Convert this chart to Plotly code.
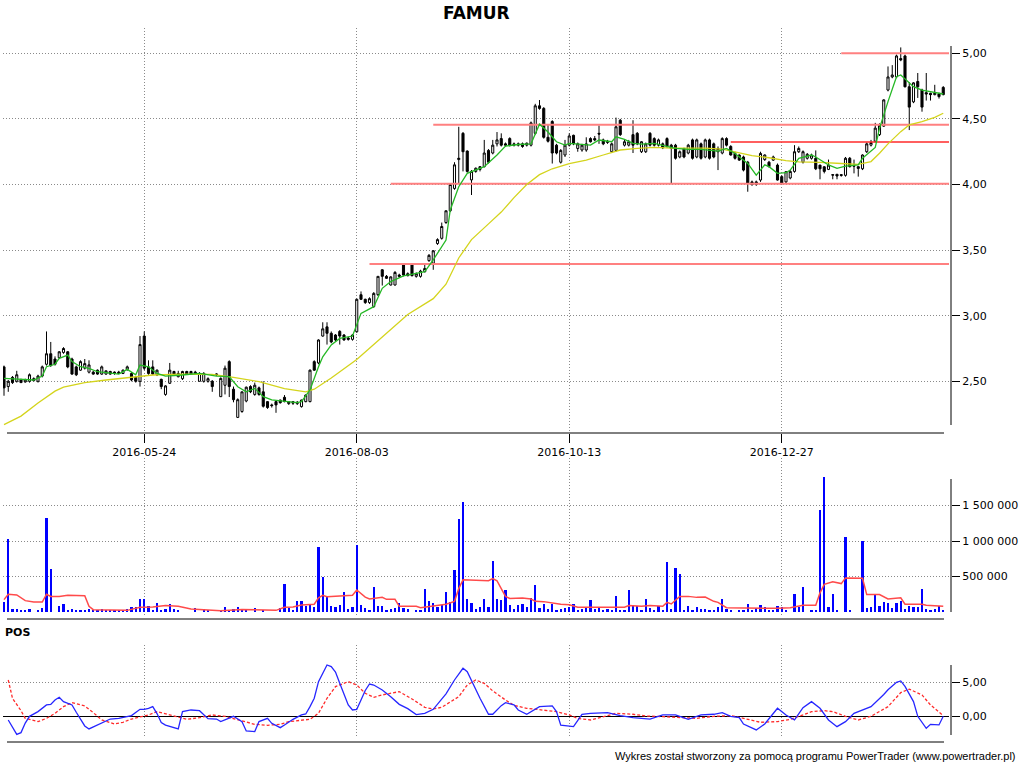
import plotly.graph_objects as go

W, H = 1024, 768

# ---------------- data ----------------
date_tick_idx = [33, 83, 133, 183]
date_tick_txt = ["2016-05-24", "2016-08-03", "2016-10-13", "2016-12-27"]

price_ticks = [2.5, 3.0, 3.5, 4.0, 4.5, 5.0]
price_tick_txt = ["2,50", "3,00", "3,50", "4,00", "4,50", "5,00"]
vol_ticks = [500000, 1000000, 1500000]
vol_tick_txt = ["500 000", "1 000 000", "1 500 000"]
pos_ticks = [0, 5]
pos_tick_txt = ["0,00", "5,00"]

open_ = [
 2.61, 2.46, 2.53, 2.50, 2.51, 2.495, 2.50, 2.52, 2.50, 2.54,
 2.63, 2.71, 2.67, 2.68, 2.72, 2.725, 2.67, 2.61, 2.585, 2.60,
 2.57, 2.57, 2.585, 2.555, 2.555, 2.575, 2.56, 2.57, 2.56, 2.59,
 2.56, 2.53, 2.50, 2.845, 2.61, 2.61, 2.55, 2.515, 2.40, 2.485,
 2.575, 2.535, 2.52, 2.575, 2.575, 2.56, 2.50, 2.50, 2.50, 2.50,
 2.55, 2.383, 2.47, 2.65, 2.44, 2.225, 2.27, 2.35, 2.46, 2.40,
 2.45, 2.42, 2.345, 2.32, 2.345, 2.357, 2.378, 2.33, 2.345, 2.33,
 2.307, 2.345, 2.345, 2.65, 2.64, 2.845, 2.915, 2.866, 2.853, 2.88,
 2.853, 2.83, 2.82, 2.878, 3.16, 3.125, 3.10, 3.07, 3.16, 3.35,
 3.30, 3.234, 3.234, 3.31, 3.39, 3.32, 3.39, 3.30, 3.30, 3.335,
 3.42, 3.40, 3.55, 3.59, 3.71, 3.80, 3.97, 4.19, 4.39, 4.255,
 4.035, 4.10, 4.115, 4.136, 4.26, 4.24, 4.31, 4.35, 4.31, 4.35,
 4.31, 4.30, 4.31, 4.30, 4.30, 4.39, 4.60, 4.58, 4.36, 4.48,
 4.30, 4.17, 4.225, 4.30, 4.375, 4.275, 4.263, 4.263, 4.35, 4.35,
 4.39, 4.34, 4.32, 4.25, 4.26, 4.49, 4.30, 4.30, 4.38, 4.39,
 4.25, 4.25, 4.39, 4.35, 4.30, 4.31, 4.35, 4.30, 4.30, 4.21,
 4.275, 4.24, 4.34, 4.21, 4.31, 4.21, 4.34, 4.31, 4.25, 4.24,
 4.35, 4.29, 4.237, 4.225, 4.21, 4.17, 4.02, 4.02, 4.034, 4.19,
 4.17, 4.186, 4.148, 4.06, 4.02, 4.05, 4.10, 4.25, 4.17, 4.20,
 4.20, 4.20, 4.148, 4.135, 4.115, 4.075, 4.078, 4.075, 4.07, 4.20,
 4.14, 4.136, 4.12, 4.25, 4.30, 4.33, 4.38, 4.445, 4.72, 4.82,
 4.82, 4.96, 4.98, 4.745, 4.63, 4.785, 4.72, 4.70, 4.695, 4.685,
 4.69, 4.74]

high = [
 2.62, 2.51, 2.54, 2.58, 2.52, 2.52, 2.56, 2.53, 2.55, 2.62,
 2.88, 2.80, 2.69, 2.73, 2.76, 2.73, 2.68, 2.62, 2.66, 2.67,
 2.66, 2.58, 2.59, 2.62, 2.58, 2.58, 2.575, 2.58, 2.59, 2.62,
 2.57, 2.54, 2.845, 2.88, 2.66, 2.66, 2.59, 2.52, 2.47, 2.64,
 2.58, 2.58, 2.58, 2.58, 2.58, 2.58, 2.57, 2.57, 2.53, 2.51,
 2.56, 2.53, 2.62, 2.66, 2.46, 2.37, 2.42, 2.46, 2.47, 2.49,
 2.46, 2.50, 2.35, 2.33, 2.35, 2.36, 2.395, 2.35, 2.35, 2.35,
 2.36, 2.40, 2.59, 2.66, 2.82, 2.95, 2.95, 2.88, 2.86, 2.89,
 2.86, 2.84, 2.86, 3.13, 3.185, 3.13, 3.14, 3.18, 3.30, 3.355,
 3.31, 3.30, 3.34, 3.32, 3.39, 3.33, 3.39, 3.33, 3.35, 3.39,
 3.47, 3.50, 3.59, 3.71, 3.80, 4.00, 4.17, 4.44, 4.40, 4.26,
 4.11, 4.13, 4.14, 4.34, 4.27, 4.34, 4.40, 4.39, 4.32, 4.36,
 4.32, 4.32, 4.32, 4.32, 4.48, 4.615, 4.644, 4.59, 4.46, 4.49,
 4.31, 4.27, 4.34, 4.39, 4.38, 4.32, 4.31, 4.36, 4.36, 4.37,
 4.45, 4.35, 4.34, 4.32, 4.51, 4.50, 4.34, 4.34, 4.49, 4.40,
 4.33, 4.32, 4.40, 4.36, 4.35, 4.32, 4.36, 4.31, 4.31, 4.26,
 4.28, 4.31, 4.35, 4.35, 4.32, 4.35, 4.35, 4.32, 4.29, 4.36,
 4.36, 4.30, 4.25, 4.23, 4.22, 4.18, 4.03, 4.03, 4.25, 4.23,
 4.18, 4.22, 4.16, 4.07, 4.10, 4.11, 4.30, 4.29, 4.26, 4.24,
 4.235, 4.26, 4.15, 4.14, 4.19, 4.08, 4.08, 4.08, 4.21, 4.21,
 4.19, 4.14, 4.23, 4.32, 4.34, 4.47, 4.466, 4.65, 4.90, 4.91,
 4.99, 5.045, 4.99, 4.78, 4.78, 4.85, 4.73, 4.85, 4.70, 4.76,
 4.70, 4.75]

low = [
 2.39, 2.42, 2.48, 2.49, 2.49, 2.49, 2.49, 2.50, 2.49, 2.53,
 2.62, 2.61, 2.62, 2.67, 2.71, 2.60, 2.55, 2.54, 2.58, 2.59,
 2.56, 2.55, 2.55, 2.55, 2.55, 2.55, 2.55, 2.555, 2.555, 2.58,
 2.50, 2.49, 2.46, 2.585, 2.55, 2.55, 2.54, 2.44, 2.39, 2.48,
 2.54, 2.53, 2.51, 2.55, 2.55, 2.55, 2.50, 2.49, 2.49, 2.42,
 2.54, 2.38, 2.40, 2.38, 2.34, 2.22, 2.26, 2.34, 2.41, 2.39,
 2.39, 2.30, 2.29, 2.30, 2.26, 2.33, 2.34, 2.32, 2.32, 2.32,
 2.30, 2.34, 2.34, 2.58, 2.63, 2.84, 2.78, 2.79, 2.80, 2.78,
 2.81, 2.81, 2.81, 2.87, 3.12, 3.09, 3.09, 3.06, 3.15, 3.23,
 3.28, 3.23, 3.23, 3.29, 3.30, 3.30, 3.30, 3.29, 3.29, 3.33,
 3.41, 3.35, 3.54, 3.58, 3.70, 3.79, 3.96, 4.01, 4.10, 4.09,
 3.92, 4.09, 4.10, 4.13, 4.16, 4.23, 4.29, 4.29, 4.29, 4.29,
 4.29, 4.29, 4.28, 4.29, 4.29, 4.38, 4.57, 4.35, 4.32, 4.16,
 4.23, 4.16, 4.21, 4.29, 4.30, 4.25, 4.25, 4.25, 4.32, 4.33,
 4.31, 4.30, 4.31, 4.24, 4.25, 4.37, 4.29, 4.29, 4.24, 4.30,
 4.24, 4.24, 4.29, 4.29, 4.29, 4.27, 4.28, 4.01, 4.19, 4.20,
 4.20, 4.23, 4.19, 4.20, 4.19, 4.20, 4.19, 4.20, 4.11, 4.23,
 4.29, 4.22, 4.19, 4.18, 4.10, 3.945, 3.99, 3.99, 4.02, 4.18,
 4.13, 4.18, 4.03, 4.00, 4.01, 4.04, 4.09, 4.24, 4.16, 4.19,
 4.19, 4.11, 4.04, 4.085, 4.11, 4.04, 4.04, 4.06, 4.06, 4.13,
 4.085, 4.06, 4.11, 4.24, 4.29, 4.32, 4.37, 4.44, 4.71, 4.81,
 4.81, 4.94, 4.74, 4.415, 4.62, 4.66, 4.555, 4.64, 4.64, 4.68,
 4.655, 4.68]

close = [
 2.45, 2.50, 2.49, 2.55, 2.49, 2.51, 2.55, 2.505, 2.54, 2.61,
 2.71, 2.62, 2.63, 2.725, 2.75, 2.61, 2.555, 2.55, 2.65, 2.635,
 2.625, 2.555, 2.555, 2.61, 2.58, 2.555, 2.57, 2.56, 2.585, 2.61,
 2.51, 2.50, 2.78, 2.60, 2.56, 2.555, 2.585, 2.46, 2.465, 2.585,
 2.55, 2.56, 2.575, 2.555, 2.555, 2.57, 2.56, 2.56, 2.52, 2.46,
 2.555, 2.522, 2.60, 2.46, 2.36, 2.36, 2.42, 2.455, 2.42, 2.47,
 2.40, 2.31, 2.30, 2.315, 2.32, 2.337, 2.345, 2.345, 2.333, 2.34,
 2.357, 2.395, 2.585, 2.585, 2.815, 2.90, 2.866, 2.80, 2.815, 2.845,
 2.815, 2.82, 2.853, 3.125, 3.125, 3.10, 3.13, 3.17, 3.30, 3.30,
 3.285, 3.296, 3.33, 3.30, 3.31, 3.305, 3.305, 3.32, 3.34, 3.36,
 3.46, 3.495, 3.58, 3.68, 3.80, 4.00, 4.15, 4.20, 4.25, 4.10,
 4.10, 4.124, 4.136, 4.24, 4.17, 4.30, 4.34, 4.30, 4.30, 4.30,
 4.30, 4.31, 4.29, 4.315, 4.47, 4.60, 4.58, 4.36, 4.33, 4.24,
 4.24, 4.26, 4.30, 4.37, 4.31, 4.31, 4.30, 4.31, 4.326, 4.34,
 4.385, 4.31, 4.33, 4.31, 4.44, 4.38, 4.326, 4.326, 4.30, 4.31,
 4.326, 4.31, 4.30, 4.30, 4.34, 4.28, 4.29, 4.275, 4.20, 4.25,
 4.21, 4.30, 4.20, 4.34, 4.20, 4.34, 4.20, 4.21, 4.275, 4.35,
 4.30, 4.225, 4.20, 4.186, 4.11, 4.01, 4.00, 4.00, 4.237, 4.225,
 4.136, 4.21, 4.034, 4.01, 4.098, 4.10, 4.25, 4.275, 4.25, 4.23,
 4.225, 4.12, 4.12, 4.10, 4.148, 4.072, 4.065, 4.07, 4.20, 4.136,
 4.142, 4.123, 4.225, 4.31, 4.32, 4.43, 4.45, 4.645, 4.82, 4.835,
 4.98, 4.95, 4.745, 4.59, 4.775, 4.745, 4.59, 4.69, 4.685, 4.695,
 4.67, 4.685]

# volume in thousands of shares
volume_k = [
 146, 1033, 47, 47, 33, 33, 47, 5, 33, 61,
 1330, 610, 5, 89, 117, 33, 47, 33, 33, 33,
 47, 33, 33, 47, 33, 33, 33, 33, 33, 47,
 75, 75, 188, 188, 89, 33, 131, 33, 47, 117,
 47, 33, 5, 5, 5, 61, 5, 47, 33, 5,
 5, 33, 75, 33, 47, 75, 47, 47, 5, 61,
 5, 33, 5, 5, 5, 61, 400, 61, 33, 160,
 160, 89, 117, 75, 920, 500, 216, 89, 75, 103,
 286, 47, 75, 948, 103, 61, 33, 357, 89, 89,
 33, 47, 61, 131, 61, 47, 5, 33, 33, 329,
 160, 131, 75, 103, 286, 146, 596, 1310, 1550, 188,
 131, 47, 75, 188, 75, 723, 188, 174, 315, 103,
 47, 103, 117, 75, 200, 385, 61, 117, 47, 117,
 33, 47, 61, 75, 117, 33, 47, 75, 174, 47,
 61, 33, 47, 33, 230, 33, 33, 315, 103, 89,
 33, 188, 61, 33, 89, 33, 709, 47, 624, 540,
 33, 89, 33, 75, 47, 47, 33, 33, 75, 188,
 47, 33, 5, 33, 33, 117, 33, 61, 103, 75,
 33, 33, 89, 75, 33, 5, 258, 75, 357, 5,
 33, 33, 1430, 1900, 75, 258, 33, 5, 1061, 33,
 5, 5, 1005, 61, 75, 258, 89, 146, 131, 61,
 131, 160, 47, 89, 75, 75, 329, 47, 33, 47,
 89, 33]

# (bar index, value) pairs
ma_long = [(0,2.17),(4,2.235),(8,2.335),(12,2.425),(14,2.455),(19,2.49),(24,2.51),(30,2.53),
 (35,2.548),(42,2.555),(49,2.553),(54,2.53),(60,2.497),(66,2.445),(71,2.42),(73,2.44),(77,2.525),
 (83,2.667),(89,2.84),(95,3.01),(101,3.13),(104,3.24),(107,3.44),(110,3.58),(114,3.70),(117,3.79),
 (120,3.90),(123,4.00),(126,4.075),(129,4.12),(133,4.16),(137,4.186),(141,4.225),(145,4.263),
 (149,4.275),(153,4.283),(157,4.278),(161,4.278),(165,4.278),(169,4.27),(172,4.25),(176,4.22),
 (180,4.204),(184,4.182),(187,4.172),(192,4.169),(197,4.16),(201,4.154),(204,4.175),(206,4.238),
 (208,4.31),(211,4.403),(213,4.454),(216,4.48),(219,4.512),(221,4.543)]

ma_short = [(0,2.522),(3,2.515),(7,2.51),(9,2.54),(10,2.611),(12,2.63),(13,2.675),(15,2.70),(16,2.65),
 (18,2.611),(20,2.599),(22,2.573),(24,2.565),(27,2.555),(29,2.591),(31,2.55),(32,2.624),(34,2.611),
 (36,2.56),(38,2.54),(42,2.548),(46,2.561),(50,2.54),(53,2.535),(55,2.459),(57,2.42),(59,2.446),
 (61,2.383),(63,2.358),(66,2.345),(69,2.337),(70,2.345),(72,2.434),(74,2.611),(75,2.687),(77,2.777),
 (79,2.827),(82,2.845),(84,3.018),(87,3.069),(89,3.209),(91,3.26),(94,3.303),(97,3.323),(99,3.336),
 (101,3.425),(104,3.577),(105,3.806),(107,3.983),(109,4.085),(111,4.11),(113,4.136),(116,4.225),
 (118,4.293),(121,4.305),(124,4.31),(126,4.46),(128,4.40),(130,4.326),(132,4.30),(133,4.313),
 (136,4.308),(138,4.30),(140,4.339),(143,4.326),(144,4.364),(146,4.344),(148,4.313),(150,4.308),
 (153,4.313),(155,4.30),(158,4.275),(161,4.268),(164,4.268),(168,4.255),(170,4.275),(172,4.237),
 (175,4.161),(177,4.072),(179,4.15),(180,4.136),(182,4.085),(184,4.09),(185,4.11),(187,4.20),
 (190,4.225),(191,4.21),(194,4.149),(196,4.123),(198,4.14),(201,4.149),(202,4.2),(205,4.283),
 (206,4.428),(208,4.632),(210,4.822),(211,4.835),(213,4.771),(214,4.746),(216,4.72),(219,4.70),(221,4.69)]

# support / resistance levels and the bar where each begins
levels = [5.00, 4.455, 4.324, 4.005, 3.394]
level_start = [197, 101, 171, 91, 86]

vol_ma_k = [(0,174),(1,250),(3,240),(5,160),(7,140),(9,140),(10,250),(11,220),(13,220),(15,235),
 (19,230),(20,80),(21,33),(25,23),(29,23),(32,66),(35,70),(38,90),(41,80),(44,42),(48,33),(51,19),
 (56,35),(61,33),(64,23),(66,66),(68,70),(70,100),(73,110),(74,200),(75,235),(76,216),(80,230),
 (82,235),(83,310),(85,210),(86,183),(89,206),(90,178),(92,178),(93,80),(97,80),(98,60),(101,80),
 (104,110),(106,150),(107,330),(108,455),(111,446),(114,440),(115,470),(116,440),(117,330),(118,220),
 (119,190),(122,197),(124,183),(125,150),(127,146),(129,127),(131,108),(133,103),(135,66),(138,66),
 (143,66),(146,66),(147,90),(150,80),(152,90),(155,80),(156,136),(157,113),(159,220),(161,220),
 (163,206),(165,211),(167,150),(168,136),(170,60),(173,56),(178,56),(182,52),(185,61),(188,94),
 (191,94),(192,270),(193,390),(195,427),(197,400),(198,480),(202,475),(203,245),(206,245),(208,183),
 (211,200),(212,110),(216,108),(217,94),(221,80)]

pos_line = [(1,-0.54),(3,-2.65),(4,-2.4),(5,-1.0),(6,0.0),(8,0.69),(10,1.67),(11,1.76),(12,2.4),
 (13,2.8),(14,2.16),(16,1.67),(17,0.6),(18,-0.5),(19,-1.42),(20,-1.86),(23,-0.93),(25,-0.4),(27,-0.3),
 (29,0.0),(30,0.1),(32,1.03),(33,1.03),(34,1.18),(35,1.42),(36,0.4),(37,-0.9),(38,-1.3),(39,-1.52),
 (41,-1.86),(42,0.69),(44,0.93),(46,0.83),(47,0.2),(48,-0.34),(50,-0.4),(51,-0.78),(54,0.0),(56,-0.78),
 (57,-2.16),(59,-2.25),(60,-0.78),(62,-0.3),(63,-1.03),(65,-1.67),(66,-1.27),(68,-0.44),(70,0.2),
 (71,0.34),(72,1.42),(73,2.65),(74,5.1),(76,7.55),(77,7.3),(78,6.5),(79,4.85),(81,1.67),(82,0.93),
 (83,1.03),(84,2.4),(85,3.8),(86,4.75),(87,4.6),(89,3.87),(91,2.89),(93,1.76),(95,1.13),(97,0.25),
 (99,0.44),(101,1.03),(103,2.5),(104,3.3),(106,5.34),(108,7.06),(109,6.57),(110,5.2),(112,2.65),
 (114,0.3),(115,0.3),(117,1.57),(118,2.0),(120,1.67),(121,0.93),(123,0.3),(126,1.42),(129,1.52),
 (130,0.69),(131,-1.3),(134,-1.52),(136,0.3),(138,0.44),(142,0.54),(145,0.1),(148,-0.2),(152,-0.4),
 (155,0.2),(158,0.2),(161,-0.44),(164,0.2),(167,0.3),(169,0.54),(171,0.0),(173,-0.2),(174,-1.13),
 (177,-2.0),(179,-1.13),(182,1.18),(184,0.2),(186,-0.54),(188,1.27),(190,2.16),(192,1.18),(194,-0.54),
 (196,-1.52),(198,-0.78),(200,0.44),(202,0.93),(204,1.42),(207,3.2),(208,3.9),(210,5.0),(211,5.2),
 (212,4.4),(214,2.16),(215,0.0),(217,-1.76),(218,-1.18),(220,-1.27),(221,0.0)]

pos_signal = [(1,5.34),(2,2.65),(4,0.83),(5,-0.3),(8,-0.78),(10,-0.3),(12,0.44),(14,1.42),(16,2.0),
 (19,1.52),(21,0.54),(23,-0.54),(26,-1.13),(28,-0.88),(30,-0.4),(34,0.2),(36,0.69),(38,0.34),(41,-0.2),
 (43,-0.44),(46,-0.2),(49,0.2),(52,0.0),(56,-0.64),(59,-1.18),(62,-1.32),(65,-1.18),(67,-0.78),
 (70,-0.64),(72,-0.44),(74,0.44),(76,2.65),(78,4.36),(81,5.1),(83,4.6),(85,3.38),(87,2.8),(89,3.14),
 (93,3.63),(96,2.55),(99,1.32),(101,1.08),(103,1.32),(107,2.89),(109,4.6),(111,5.34),(113,4.85),
 (115,3.73),(118,2.4),(120,1.6),(123,1.18),(127,0.93),(130,0.69),(133,0.2),(135,-0.3),(138,-0.54),
 (141,0.0),(144,0.44),(148,0.3),(151,0.05),(155,-0.05),(159,-0.2),(163,-0.3),(167,0.0),(171,0.1),
 (174,-0.3),(178,-0.88),(182,-0.78),(185,-0.44),(188,0.2),(190,0.69),(193,0.83),(195,0.69),(198,0.0),
 (201,-0.54),(204,0.0),(208,1.42),(211,3.48),(213,4.0),(216,3.14),(218,1.67),(221,0.1)]

# ---------------- helpers ----------------
def fx(px):
    return px / W

def fy(py):
    return 1 - py / H

def unzip(pairs, scale=1.0):
    return [p[0] for p in pairs], [p[1] * scale for p in pairs]

n = len(close)
idx = list(range(n))
# pixel geometry: bar i sits at x = 4 + 4.25*i ; plot area from x=3 to x=949
X0, DX = 4.0, 4.25
x_range = [(3 - X0) / DX, (949 - X0) / DX]

GRID = "#8a8a8a"
FONT = "DejaVu Sans"

fig = go.Figure()

# candles
fig.add_trace(go.Candlestick(
    x=idx, open=open_, high=high, low=low, close=close,
    increasing=dict(line=dict(color="black", width=1), fillcolor="white"),
    decreasing=dict(line=dict(color="black", width=1), fillcolor="black"),
    whiskerwidth=0, xaxis="x", yaxis="y", showlegend=False, hoverinfo="skip"))

# level lines
level_styles = [("#ff8080", 2), ("#ff8080", 2), ("#ff2a2a", 1.4), ("#ff8080", 2), ("#ff8080", 2)]
for lv, st, (col, wd) in zip(levels, level_start, level_styles):
    fig.add_trace(go.Scatter(x=[st, x_range[1]], y=[lv, lv], mode="lines",
                             line=dict(color=col, width=wd), xaxis="x", yaxis="y",
                             showlegend=False, hoverinfo="skip"))

mx, my = unzip(ma_long)
fig.add_trace(go.Scatter(x=mx, y=my, mode="lines", line=dict(color="#d4d41c", width=1.3),
                         xaxis="x", yaxis="y", showlegend=False, hoverinfo="skip"))
sx, sy = unzip(ma_short)
fig.add_trace(go.Scatter(x=sx, y=sy, mode="lines", line=dict(color="#25b825", width=1.3),
                         xaxis="x", yaxis="y", showlegend=False, hoverinfo="skip"))

# volume
fig.add_trace(go.Bar(x=idx, y=[v * 1000 for v in volume_k], width=0.5,
                     marker=dict(color="#0000ff", line=dict(width=0)),
                     xaxis="x2", yaxis="y2", showlegend=False, hoverinfo="skip"))
vx, vy = unzip(vol_ma_k, 1000)
fig.add_trace(go.Scatter(x=vx, y=vy, mode="lines", line=dict(color="#ff4a4a", width=1.5),
                         xaxis="x2", yaxis="y2", showlegend=False, hoverinfo="skip"))

# POS
px_, py_ = unzip(pos_signal)
fig.add_trace(go.Scatter(x=px_, y=py_, mode="lines", line=dict(color="#ff2a2a", width=1.3, dash="3px,2px"),
                         xaxis="x3", yaxis="y3", showlegend=False, hoverinfo="skip"))
bx, by = unzip(pos_line)
fig.add_trace(go.Scatter(x=bx, y=by, mode="lines", line=dict(color="#2626ff", width=1.3),
                         xaxis="x3", yaxis="y3", showlegend=False, hoverinfo="skip"))

xdom = [fx(3), fx(949)]
common_x = dict(domain=xdom, range=x_range, showgrid=True, gridcolor=GRID, griddash="1px,2px",
                gridwidth=1, tickvals=date_tick_idx, zeroline=False, showline=False, fixedrange=True)
common_y = dict(side="right", anchor="free", position=fx(951), showgrid=True, gridcolor=GRID,
                griddash="1px,2px", gridwidth=1, zeroline=False, showline=False,
                ticks="outside", ticklen=8, tickcolor="black", tickwidth=1,
                tickfont=dict(family=FONT, size=11, color="black"), fixedrange=True)

fig.update_layout(
    width=W, height=H, margin=dict(l=0, r=0, t=0, b=0),
    paper_bgcolor="white", plot_bgcolor="white",
    font=dict(family=FONT, size=11, color="black"),
    showlegend=False, bargap=0,
    xaxis=dict(**common_x, anchor="y", ticktext=date_tick_txt, ticks="outside", ticklen=9,
               tickcolor="black", tickwidth=1, tickfont=dict(family=FONT, size=11, color="black"),
               rangeslider=dict(visible=False)),
    yaxis=dict(**common_y, domain=[fy(433), fy(28)], range=[2.106, 5.193],
               tickvals=price_ticks, ticktext=price_tick_txt),
    xaxis2=dict(**common_x, anchor="y2", showticklabels=False, ticks=""),
    yaxis2=dict(**common_y, domain=[fy(615), fy(458)], range=[-42300, 2169000],
                tickvals=vol_ticks, ticktext=vol_tick_txt),
    xaxis3=dict(**common_x, anchor="y3", showticklabels=False, ticks=""),
    yaxis3=dict(**{k: v for k, v in common_y.items() if k != "zeroline"},
                domain=[fy(738), fy(645)], range=[-3.19, 10.485],
                tickvals=pos_ticks, ticktext=pos_tick_txt,
                zeroline=True, zerolinecolor="black", zerolinewidth=1),
)

shapes = []
def pline(x0, y0, x1, y1, w=1):
    shapes.append(dict(type="line", xref="paper", yref="paper", x0=fx(x0), y0=fy(y0),
                       x1=fx(x1), y1=fy(y1), line=dict(color="black", width=w)))

pline(951, 46, 951, 425)      # price axis line
pline(951, 479, 951, 612)     # volume axis line
pline(951, 665, 951, 735)     # POS axis line
pline(7, 433, 944, 433)       # price bottom line
pline(7, 619, 944, 619)       # volume bottom line
pline(7, 742, 944, 742)       # POS bottom line
fig.update_layout(shapes=shapes)

fig.add_annotation(text="<b>FAMUR</b>", x=fx(476), y=fy(13), xref="paper", yref="paper",
                   showarrow=False, xanchor="center", yanchor="middle",
                   font=dict(family=FONT, size=17, color="black"))
fig.add_annotation(text="<b>POS</b>", x=fx(3), y=fy(632), xref="paper", yref="paper",
                   showarrow=False, xanchor="left", yanchor="middle",
                   font=dict(family=FONT, size=11, color="black"))
fig.add_annotation(text="Wykres został stworzony za pomocą programu PowerTrader (www.powertrader.pl)",
                   x=fx(1018), y=fy(756), xref="paper", yref="paper", showarrow=False,
                   xanchor="right", yanchor="middle",
                   font=dict(family="Liberation Sans", size=11, color="black"))

fig.write_html("out.html", config={"displayModeBar": False, "staticPlot": True},
               post_script="document.body.style.margin='0';document.body.style.overflow='hidden';")
